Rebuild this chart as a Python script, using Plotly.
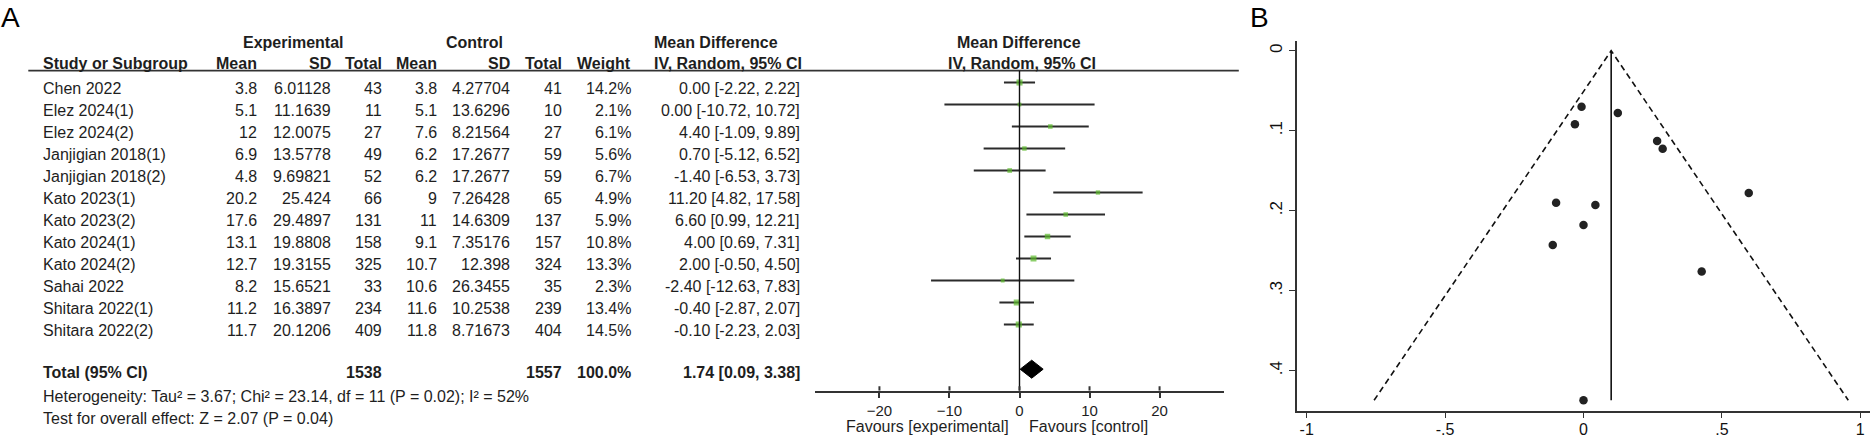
import plotly.graph_objects as go

# ---------------- data ----------------
studies = ["Chen 2022", "Elez 2024(1)", "Elez 2024(2)", "Janjigian 2018(1)", "Janjigian 2018(2)",
           "Kato 2023(1)", "Kato 2023(2)", "Kato 2024(1)", "Kato 2024(2)", "Sahai 2022",
           "Shitara 2022(1)", "Shitara 2022(2)"]
exp_mean = [3.8, 5.1, 12, 6.9, 4.8, 20.2, 17.6, 13.1, 12.7, 8.2, 11.2, 11.7]
exp_sd = [6.01128, 11.1639, 12.0075, 13.5778, 9.69821, 25.424, 29.4897, 19.8808, 19.3155, 15.6521, 16.3897, 20.1206]
exp_n = [43, 11, 27, 49, 52, 66, 131, 158, 325, 33, 234, 409]
ctrl_mean = [3.8, 5.1, 7.6, 6.2, 6.2, 9, 11, 9.1, 10.7, 10.6, 11.6, 11.8]
ctrl_sd = [4.27704, 13.6296, 8.21564, 17.2677, 17.2677, 7.26428, 14.6309, 7.35176, 12.398, 26.3455, 10.2538, 8.71673]
ctrl_n = [41, 10, 27, 59, 59, 65, 137, 157, 324, 35, 239, 404]
weight = [14.2, 2.1, 6.1, 5.6, 6.7, 4.9, 5.9, 10.8, 13.3, 2.3, 13.4, 14.5]
md = [0.00, 0.00, 4.40, 0.70, -1.40, 11.20, 6.60, 4.00, 2.00, -2.40, -0.40, -0.10]
md_lo = [-2.22, -10.72, -1.09, -5.12, -6.53, 4.82, 0.99, 0.69, -0.50, -12.63, -2.87, -2.23]
md_hi = [2.22, 10.72, 9.89, 6.52, 3.73, 17.58, 12.21, 7.31, 4.50, 7.83, 2.07, 2.03]
total_exp_n = 1538
total_ctrl_n = 1557
total_weight = 100.0
total_md, total_lo, total_hi = 1.74, 0.09, 3.38
heterogeneity = "Heterogeneity: Tau² = 3.67; Chi² = 23.14, df = 11 (P = 0.02); I² = 52%"
overall = "Test for overall effect: Z = 2.07 (P = 0.04)"
forest_ticks = [-20, -10, 0, 10, 20]

# funnel plot (effect, standard error)
funnel_es = [-0.007, -0.031, 0.124, 0.266, 0.286, 0.597, -0.099, 0.043, 0.0, -0.111, 0.427, 0.0]
funnel_se = [0.070, 0.092, 0.078, 0.113, 0.1225, 0.178, 0.190, 0.193, 0.218, 0.243, 0.276, 0.437]
funnel_pooled = 0.1
funnel_xticks = [-1, -0.5, 0, 0.5, 1]
funnel_xlabels = ["-1", "-.5", "0", ".5", "1"]
funnel_yticks = [0, 0.1, 0.2, 0.3, 0.4]
funnel_ylabels = ["0", ".1", ".2", ".3", ".4"]

# ---------------- layout helpers ----------------
W, H = 1872, 438
FONT = "Liberation Sans, Arial, sans-serif"
TXT = "#1e1e1e"


def px(x):
    return x / W


def py(y):
    return 1 - y / H


def fmt(v):
    return f"{v:g}"


annotations = []


def text(s, x, y, anchor="left", bold=False, size=16, color=TXT):
    if bold:
        s = f"<b>{s}</b>"
    annotations.append(dict(text=s, x=px(x), y=py(y), xref="paper", yref="paper",
                            xanchor=anchor, yanchor="middle", showarrow=False,
                            font=dict(family=FONT, size=size, color=color), borderpad=0))


# column right edges
C_NAME = 41.7
C_EM, C_ESD, C_EN = 257.7, 331.7, 383.3
C_CM, C_CSD, C_CN = 437.7, 511.0, 563.3
C_W = 631.8
C_CI = 800.8
C_CIH = 653
ROW0, DY = 88.5, 22.0
Y_TOTAL = 372.7
MARK_OFF = 6.0
DIAMOND_OFF = 3.5

# headers
text("Experimental", 293, 42.7, "center", True)
text("Control", 474.2, 42.7, "center", True)
text("Mean Difference", C_CIH, 42.7, "left", True)
text("Mean Difference", 1019.5, 42.7, "center", True)
text("Study or Subgroup", C_NAME, 63.5, "left", True)
for lab, xr in [("Mean", C_EM), ("SD", C_ESD), ("Total", C_EN), ("Mean", C_CM),
                ("SD", C_CSD), ("Total", C_CN), ("Weight", C_W)]:
    text(lab, xr, 63.5, "right", True)
text("IV, Random, 95% CI", C_CIH, 63.5, "left", True)
text("IV, Random, 95% CI", 1022, 63.5, "center", True)

row_y = []
for i, s in enumerate(studies):
    y = ROW0 + DY * i
    row_y.append(y - MARK_OFF)
    text(s, C_NAME, y)
    text(fmt(exp_mean[i]), C_EM, y, "right")
    text(fmt(exp_sd[i]), C_ESD, y, "right")
    text(str(exp_n[i]), C_EN, y, "right")
    text(fmt(ctrl_mean[i]), C_CM, y, "right")
    text(fmt(ctrl_sd[i]), C_CSD, y, "right")
    text(str(ctrl_n[i]), C_CN, y, "right")
    text(f"{weight[i]:.1f}%", C_W, y, "right")
    text(f"{md[i]:.2f} [{md_lo[i]:.2f}, {md_hi[i]:.2f}]", C_CI, y, "right")

text("Total (95% CI)", C_NAME, Y_TOTAL, "left", True)
text(str(total_exp_n), C_EN, Y_TOTAL, "right", True)
text(str(total_ctrl_n), C_CN, Y_TOTAL, "right", True)
text(f"{total_weight:.1f}%", C_W, Y_TOTAL, "right", True)
text(f"{total_md:.2f} [{total_lo:.2f}, {total_hi:.2f}]", C_CI, Y_TOTAL, "right", True)
text(heterogeneity, C_NAME, 396, "left")
text(overall, C_NAME, 418.3, "left")

# panel letters
text("A", 0, 18, "left", False, 28, "#000")
text("B", 1249, 18, "left", False, 28, "#000")

# ---------------- figure ----------------
fig = go.Figure()

AX_Y = 390.7  # forest axis pixel row
sizes = [3.4 + 0.19 * w for w in weight]
fig.add_trace(go.Scatter(
    x=md, y=row_y, mode="markers", xaxis="x", yaxis="y",
    marker=dict(symbol="square", size=sizes, color="#5cbb2c", line=dict(width=0)),
    error_x=dict(type="data", symmetric=False,
                 array=[h - m for h, m in zip(md_hi, md)],
                 arrayminus=[m - l for m, l in zip(md, md_lo)],
                 color="#2b2b2b", thickness=2, width=0),
    hoverinfo="skip", showlegend=False))

yt = Y_TOTAL - DIAMOND_OFF
hd = 9
fig.add_trace(go.Scatter(
    x=[total_lo, total_md, total_hi, total_md, total_lo],
    y=[yt, yt - hd, yt, yt + hd, yt], mode="lines", fill="toself",
    fillcolor="#000", line=dict(color="#000", width=1), xaxis="x", yaxis="y",
    hoverinfo="skip", showlegend=False))

# funnel
se_max = max(funnel_se)
fig.add_trace(go.Scatter(
    x=[funnel_pooled - 1.96 * se_max, funnel_pooled, funnel_pooled + 1.96 * se_max],
    y=[se_max, 0, se_max], mode="lines", xaxis="x2", yaxis="y2",
    line=dict(color="#111", width=1.6, dash="6px,4px"), hoverinfo="skip", showlegend=False))
fig.add_trace(go.Scatter(
    x=[funnel_pooled, funnel_pooled], y=[0, se_max], mode="lines", xaxis="x2", yaxis="y2",
    line=dict(color="#111", width=1.6), hoverinfo="skip", showlegend=False))
fig.add_trace(go.Scatter(
    x=funnel_es, y=funnel_se, mode="markers", xaxis="x2", yaxis="y2",
    marker=dict(size=8.5, color="#222"), hoverinfo="skip", showlegend=False))

shapes = [
    # header rule
    dict(type="line", xref="paper", yref="paper", x0=px(28.3), x1=px(1238.8),
         y0=py(70.7), y1=py(70.7), line=dict(color="#333", width=1.8)),
    # zero line
    dict(type="line", xref="x", yref="y", x0=0, x1=0, y0=70.7, y1=AX_Y,
         line=dict(color="#111", width=1.4)),
]
for t in forest_ticks:
    shapes.append(dict(type="line", xref="x", yref="y", x0=t, x1=t, y0=AX_Y, y1=AX_Y - 4.5,
                       line=dict(color="#333", width=2)))

annotations.append(dict(text="Favours [experimental]", x=-1.3, y=py(426.5), xref="x", yref="paper",
                        xanchor="right", yanchor="middle", showarrow=False,
                        font=dict(family=FONT, size=16, color=TXT), borderpad=0))
annotations.append(dict(text="Favours [control]", x=1.2, y=py(426.5), xref="x", yref="paper",
                        xanchor="left", yanchor="middle", showarrow=False,
                        font=dict(family=FONT, size=16, color=TXT), borderpad=0))

fig.update_layout(
    width=W, height=H, margin=dict(l=0, r=0, t=0, b=0),
    paper_bgcolor="white", plot_bgcolor="white",
    font=dict(family=FONT, color=TXT),
    xaxis=dict(domain=[px(815), px(1224)], range=[-29.2, 29.2], showline=True,
               linecolor="#333", linewidth=2, ticks="outside", ticklen=5, tickwidth=2,
               tickcolor="#333", tickvals=forest_ticks, showgrid=False, zeroline=False,
               tickfont=dict(size=15, color=TXT, family=FONT), anchor="y", fixedrange=True),
    yaxis=dict(domain=[py(AX_Y), 1], range=[AX_Y, 0], visible=False, showgrid=False,
               zeroline=False, anchor="x", fixedrange=True),
    xaxis2=dict(domain=[px(1297), px(1870)], range=[-1.035, 1.035], showline=True,
                linecolor="#333", linewidth=1.6, ticks="outside", ticklen=5, tickwidth=1.4,
                tickcolor="#333", tickvals=funnel_xticks, ticktext=funnel_xlabels,
                ticklabelstandoff=-2,
                showgrid=False, zeroline=False, anchor="y2",
                tickfont=dict(size=16, color="#111", family=FONT), fixedrange=True),
    yaxis2=dict(domain=[py(410.7), py(40.7)], range=[0.45, -0.0125], showline=True,
                linecolor="#333", linewidth=1.6, ticks="outside", ticklen=6, tickwidth=1.4,
                tickcolor="#333", tickvals=funnel_yticks, ticktext=funnel_ylabels,
                tickangle=-90, showgrid=False, zeroline=False, anchor="x2",
                tickfont=dict(size=17, color="#111", family=FONT), fixedrange=True),
    shapes=shapes, annotations=annotations,
)

fig.write_html("out.html", config={"displayModeBar": False},
               post_script="document.body.style.margin='0';document.body.style.overflow='hidden';")
